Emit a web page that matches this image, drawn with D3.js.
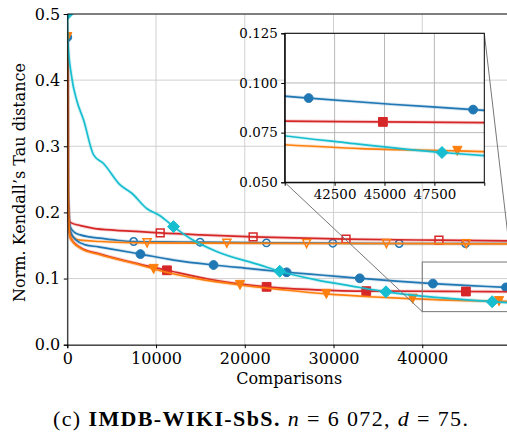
<!DOCTYPE html>
<html>
<head>
<meta charset="utf-8">
<script src="https://cdn.jsdelivr.net/npm/d3@7"></script>
<style>
  body { margin: 0; background: #fff; }
  svg text { font-family: "DejaVu Serif", "Liberation Serif", serif; }
</style>
</head>
<body>
<svg id="canvas" width="507" height="439"></svg>
<script>
// ticks
const xTicks = [0, 10000, 20000, 30000, 40000];
const yTicks = [0, 0.1, 0.2, 0.3, 0.4, 0.5];
const insetXTicks = [42500, 45000, 47500];
const insetYTicks = [0.05, 0.075, 0.1, 0.125];

// [comparisons, distance]
const upperBlue = [[0,0.465],[60,0.30],[150,0.20],[340,0.178],[800,0.170],[1460,0.166],[2500,0.163],[3700,0.161],[5500,0.158],[7480,0.156],[11000,0.1555],[14960,0.155],[22440,0.154],[29920,0.1535],[37400,0.153],[44880,0.153],[50000,0.153]];
const upperBlueMarks = [7480, 14960, 22440, 29920, 37400, 44880];

const upperRed = [[0,0.465],[60,0.28],[150,0.195],[340,0.185],[1500,0.180],[2950,0.176],[5500,0.173],[8200,0.171],[10470,0.169],[15000,0.166],[20940,0.163],[31410,0.1595],[41880,0.158],[50000,0.157]];
const upperRedMarks = [10470, 20940, 31410, 41880];

const upperOrange = [[0,0.465],[60,0.28],[150,0.19],[340,0.168],[800,0.161],[1460,0.158],[3700,0.156],[8990,0.154],[17980,0.1535],[26970,0.153],[35960,0.153],[44950,0.1525],[50000,0.1525]];
const upperOrangeMarks = [8990, 17980, 26970, 35960, 44950];

const lowerBlue = [[0,0.465],[60,0.28],[150,0.2],[340,0.172],[1000,0.158],[2020,0.151],[3500,0.148],[4830,0.145],[8240,0.137],[12000,0.128],[16480,0.1205],[20600,0.115],[24720,0.1095],[28840,0.105],[32960,0.1004],[37080,0.096],[41200,0.0924],[45320,0.0893],[49440,0.0866],[50000,0.0862]];
const lowerBlueMarks = [0, 8240, 16480, 24720, 32960, 41200, 49440];

const lowerRed = [[0,0.465],[60,0.26],[150,0.19],[340,0.162],[1460,0.147],[3700,0.137],[8200,0.1215],[11230,0.1125],[16000,0.099],[22460,0.0875],[28000,0.083],[33690,0.081],[40000,0.0808],[44920,0.0804],[50000,0.080]];
const lowerRedMarks = [11230, 22460, 33690, 44920];

const lowerOrange = [[0,0.465],[60,0.26],[150,0.19],[340,0.161],[1460,0.146],[3700,0.136],[8200,0.1205],[9730,0.1145],[14600,0.100],[19460,0.0903],[24330,0.083],[29190,0.0767],[34060,0.0725],[38920,0.0695],[43790,0.067],[48650,0.0658],[50000,0.0654]];
const lowerOrangeMarks = [0, 9730, 19460, 29190, 38920, 48650];

const cyan = [[0,0.5],[60,0.46],[490,0.405],[1050,0.37],[1830,0.34],[2960,0.287],[4080,0.274],[5920,0.242],[7270,0.229],[8950,0.206],[10450,0.195],[11970,0.1785],[13820,0.161],[16820,0.141],[21690,0.1206],[23940,0.111],[28060,0.098],[31900,0.089],[35910,0.080],[39920,0.0735],[43000,0.070],[47880,0.065],[50000,0.0634]];
const cyanMarks = [0, 11970, 23940, 35910, 47880];

const blue = "#1f77b4", red = "#d62728", orange = "#ff7f0e", teal = "#17becf";
const serif = '"DejaVu Serif", "Liberation Serif", serif';

const series = [
  { pts: upperBlue, marks: upperBlueMarks, color: blue, shape: "circle", filled: false },
  { pts: upperRed, marks: upperRedMarks, color: red, shape: "square", filled: false },
  { pts: upperOrange, marks: upperOrangeMarks, color: orange, shape: "tri", filled: false },
  { pts: lowerBlue, marks: lowerBlueMarks, color: blue, shape: "circle", filled: true },
  { pts: lowerRed, marks: lowerRedMarks, color: red, shape: "square", filled: true },
  { pts: lowerOrange, marks: lowerOrangeMarks, color: orange, shape: "tri", filled: true },
  { pts: cyan, marks: cyanMarks, color: teal, shape: "diamond", filled: true }
];

const markerPath = (shape, filled) => {
  if (shape === "circle") { const r = filled ? 4.4 : 3.7; return `M${-r},0A${r},${r} 0 1,0 ${r},0A${r},${r} 0 1,0 ${-r},0Z`; }
  if (shape === "square") { const s = filled ? 4.4 : 3.9; return `M${-s},${-s}H${s}V${s}H${-s}Z`; }
  if (shape === "tri") { const s = filled ? 4.6 : 4; return `M${-s},${-s}L${s},${-s}L0,${s}Z`; }
  const d = 6; return `M0,${-d}L${d},0L0,${d}L${-d},0Z`;
};

const svg = d3.select("svg#canvas");
svg.append("rect").attr("width", 507).attr("height", 439).attr("fill", "#fff");

const x = d3.scaleLinear([0, 50000], [67.3, 511]);
const y = d3.scaleLinear([0, 0.5], [344.7, 14]);
const xi = d3.scaleLinear([40000, 50000], [284.7, 484.3]);
const yi = d3.scaleLinear([0.05, 0.125], [182.3, 33.3]);

const defs = svg.append("defs");
defs.append("clipPath").attr("id", "clipMain").append("rect")
    .attr("x", x(0)).attr("y", y(0.5)).attr("width", x(50000) - x(0)).attr("height", y(0) - y(0.5));
defs.append("clipPath").attr("id", "clipInset").append("rect")
    .attr("x", xi(40000)).attr("y", yi(0.125)).attr("width", xi(50000) - xi(40000)).attr("height", yi(0.05) - yi(0.125));

function drawPanel(g, sx, sy, clipId, gridColor) {
  // grid
  const grid = g.append("g").attr("stroke", gridColor).attr("stroke-width", 0.9);
  const [x0, x1] = sx.range(), [y0, y1] = sy.range();
  const xt = sx === x ? xTicks : insetXTicks;
  const yt = sy === y ? yTicks : insetYTicks;
  grid.selectAll("line.v").data(xt).join("line").attr("class", "v")
      .attr("x1", d => sx(d)).attr("x2", d => sx(d)).attr("y1", y0).attr("y2", y1);
  grid.selectAll("line.h").data(yt).join("line").attr("class", "h")
      .attr("y1", d => sy(d)).attr("y2", d => sy(d)).attr("x1", x0).attr("x2", x1);

  const plot = g.append("g").attr("clip-path", `url(#${clipId})`);
  const line = d3.line().x(d => sx(d[0])).y(d => sy(d[1])).curve(d3.curveMonotoneX);
  series.forEach(s => {
    const interp = d3.scaleLinear(s.pts.map(p => p[0]), s.pts.map(p => p[1]));
    plot.append("path").datum(s.pts).attr("d", line)
        .attr("fill", "none").attr("stroke", s.color).attr("stroke-opacity", 0.18).attr("stroke-width", 3.6);
    plot.append("path").datum(s.pts).attr("d", line)
        .attr("fill", "none").attr("stroke", s.color).attr("stroke-width", 1.7);
    plot.append("g").selectAll("path").data(s.marks).join("path")
        .attr("transform", d => `translate(${sx(d)},${sy(interp(d))})`)
        .attr("d", markerPath(s.shape, s.filled))
        .attr("fill", s.filled ? s.color : "none")
        .attr("stroke", s.color)
        .attr("stroke-width", s.filled ? 1 : 1.5);
  });
}

const main = svg.append("g");
drawPanel(main, x, y, "clipMain", "#cccccc");

// zoom indicator
main.append("rect")
    .attr("x", x(40000)).attr("y", y(0.125)).attr("width", x(50000) - x(40000)).attr("height", y(0.05) - y(0.125))
    .attr("fill", "none").attr("stroke", "#777").attr("stroke-width", 1);
main.append("line").attr("x1", xi(40000)).attr("y1", yi(0.05)).attr("x2", x(40000)).attr("y2", y(0.05))
    .attr("stroke", "#777").attr("stroke-width", 1);
main.append("line").attr("x1", xi(50000)).attr("y1", yi(0.125)).attr("x2", x(50000)).attr("y2", y(0.125))
    .attr("stroke", "#777").attr("stroke-width", 1);

// spines and axes
main.append("line").attr("x1", x(0)).attr("x2", 520).attr("y1", y(0.5)).attr("y2", y(0.5))
    .attr("stroke", "#000").attr("stroke-width", 0.9);

const styleAxis = (g, size) => {
  g.attr("font-family", null);
  g.select(".domain").attr("stroke", "#000").attr("stroke-width", 1);
  g.selectAll(".tick line").attr("stroke", "#000").attr("stroke-width", 1);
  g.selectAll("text").style("font-family", serif).attr("font-size", size).attr("fill", "#000");
};

main.append("g").attr("transform", `translate(0,${y(0)})`)
    .call(d3.axisBottom(x).tickValues(xTicks).tickSize(3.5).tickPadding(4).tickFormat(d3.format("d")))
    .call(g => styleAxis(g, 16));
main.append("g").attr("transform", `translate(${x(0)},0)`)
    .call(d3.axisLeft(y).tickValues(yTicks).tickSize(3.5).tickPadding(3.5).tickFormat(d3.format(".1f")))
    .call(g => styleAxis(g, 16));

svg.append("text").attr("x", (x(0) + x(50000)) / 2).attr("y", 384)
    .attr("text-anchor", "middle").attr("font-size", 16).style("font-family", serif).text("Comparisons");
svg.append("text").attr("transform", `translate(25,${(52 + 313) / 2}) rotate(-90)`)
    .attr("text-anchor", "middle").attr("font-size", 16).style("font-family", serif)
    .text("Norm. Kendall’s Tau distance");

// inset
const inset = svg.append("g");
inset.append("rect").attr("x", xi(40000)).attr("y", yi(0.125))
    .attr("width", xi(50000) - xi(40000)).attr("height", yi(0.05) - yi(0.125)).attr("fill", "#fff");
drawPanel(inset, xi, yi, "clipInset", "#b0b0b0");
inset.append("rect").attr("x", xi(40000)).attr("y", yi(0.125))
    .attr("width", xi(50000) - xi(40000)).attr("height", yi(0.05) - yi(0.125))
    .attr("fill", "none").attr("stroke", "#000").attr("stroke-width", 1);
inset.append("g").attr("transform", `translate(0,${yi(0.05)})`)
    .call(d3.axisBottom(xi).tickValues(insetXTicks).tickSize(3.5).tickPadding(3.5).tickFormat(d3.format("d")))
    .call(g => styleAxis(g, 13.4));
inset.append("g").attr("transform", `translate(${xi(40000)},0)`)
    .call(d3.axisLeft(yi).tickValues(insetYTicks).tickSize(3.5).tickPadding(3.5).tickFormat(d3.format(".3f")))
    .call(g => styleAxis(g, 13.4));

// caption
const cap = svg.append("text").attr("x", 260.5).attr("y", 426)
    .attr("text-anchor", "middle").style("font-family", '"Liberation Serif", serif').attr("font-size", 22)
    .attr("textLength", 415).attr("lengthAdjust", "spacing");
cap.append("tspan").text("(c) ");
cap.append("tspan").attr("font-weight", "bold").text("IMDB-WIKI-SbS.");
cap.append("tspan").text(" ");
cap.append("tspan").attr("font-style", "italic").text("n");
cap.append("tspan").text(" = 6 072, ");
cap.append("tspan").attr("font-style", "italic").text("d");
cap.append("tspan").text(" = 75.");
</script>
</body>
</html>
